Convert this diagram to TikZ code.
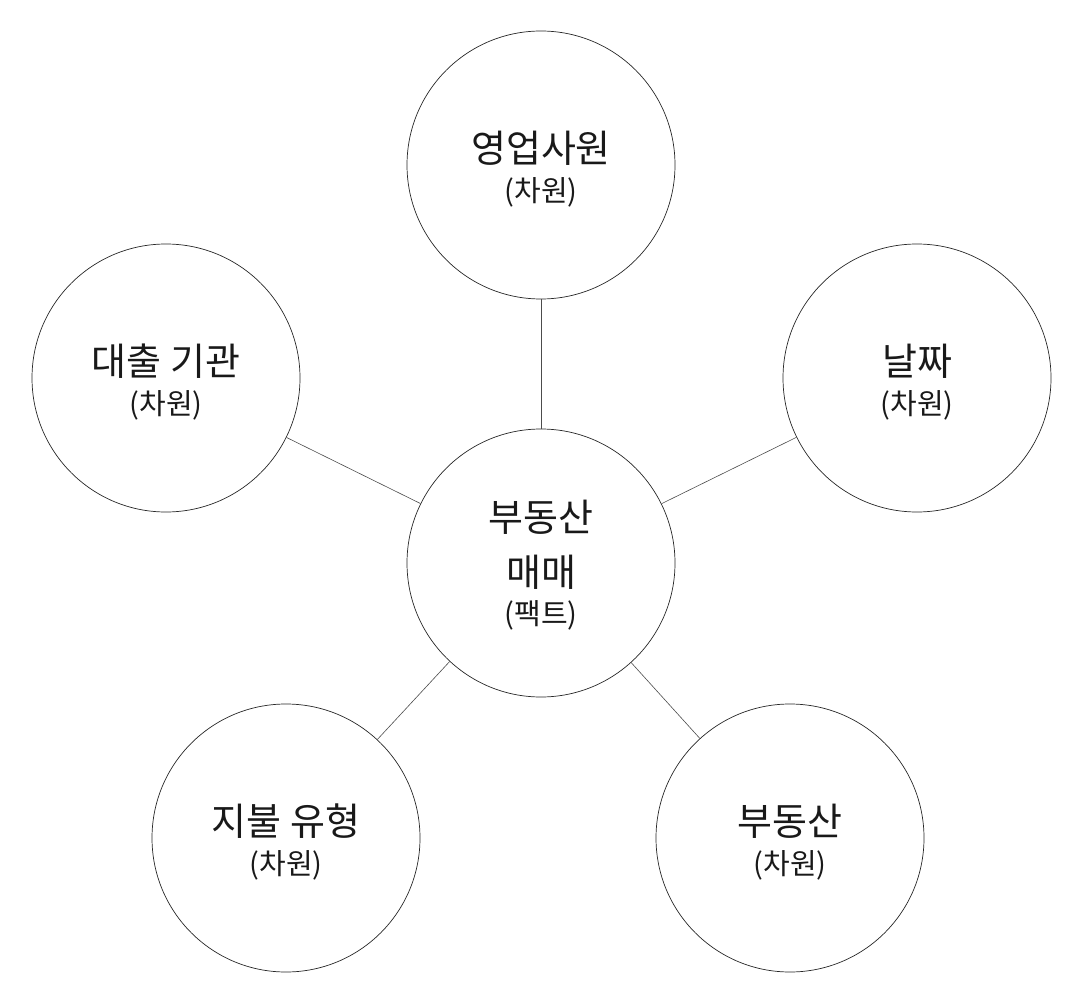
\documentclass[tikz,border=0pt]{standalone}
\usepackage{fontspec}
\newfontfamily\kr{Noto Sans CJK KR}
\begin{document}
\begin{tikzpicture}[x=1pt,y=-1pt,
  dim/.style={circle,draw=black!85,line width=0.7pt,minimum size=268pt,inner sep=0pt},
  big/.style={font=\kr\fontsize{38}{44}\selectfont,text=black!90,inner sep=0pt},
  sm/.style={font=\kr\fontsize{29}{34}\selectfont,text=black!90,inner sep=0pt},
  link/.style={draw=black!70,line width=0.6pt}]
\useasboundingbox (0,0) rectangle (1084,992);
\node[dim] (c) at (541,563) {};
\node[big] (c1) at (541,517) {부동산};
\node[big] (c2) at (541,572) {매매};
\node[sm] (c3) at (541,615) {(팩트)};
\foreach \n/\x/\y/\t in {t/541/165/영업사원, l/166/378/대출 기관, r/917/378/날짜, bl/286/838/지불 유형, br/790/838/부동산}{
  \node[dim] (\n) at (\x,\y) {};
  \node[big] (\n a) at (\x,\y-17) {\t};
  \node[sm] (\n b) at (\x,\y+27) {(차원)};
}
\foreach \n in {t,l,r,bl,br} \draw[link] (c) -- (\n);
\end{tikzpicture}
\end{document}
